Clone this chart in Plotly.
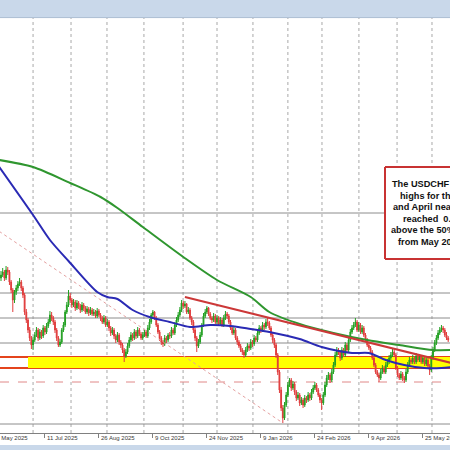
import plotly.graph_objects as go

# ---------------- data ----------------
bars = list(range(266))

opens = [
0.8235,0.8250,0.8265,0.8235,0.8275,0.8265,0.8215,0.8175,0.8125,0.8165,
0.8185,0.8205,0.8215,0.8185,0.8150,0.8065,0.8025,0.7975,0.7935,0.7900,
0.7925,0.7950,0.7975,0.7935,0.7965,0.7945,0.7985,0.7965,0.7995,0.8015,
0.8050,0.8035,0.8015,0.7975,0.7935,0.7900,0.7915,0.7975,0.8000,0.8065,
0.8100,0.8145,0.8125,0.8100,0.8115,0.8085,0.8110,0.8095,0.8075,0.8100,
0.8085,0.8065,0.8080,0.8060,0.8075,0.8055,0.8065,0.8045,0.8070,0.8050,
0.8035,0.8015,0.8035,0.8000,0.8015,0.7985,0.7960,0.7975,0.7945,0.7925,
0.7950,0.7915,0.7900,0.7875,0.7845,0.7865,0.7895,0.7925,0.7950,0.7935,
0.7965,0.7945,0.7975,0.7955,0.7935,0.7950,0.7965,0.7945,0.7985,0.8015,
0.8050,0.8065,0.8035,0.8000,0.7965,0.7935,0.7915,0.7905,0.7935,0.7925,
0.7950,0.7945,0.7975,0.7960,0.8000,0.8025,0.8050,0.8075,0.8110,0.8095,
0.8105,0.8065,0.8075,0.8035,0.8015,0.7975,0.7935,0.7895,0.7915,0.7950,
0.8000,0.8045,0.8065,0.8085,0.8055,0.8035,0.8025,0.8045,0.8015,0.8035,
0.8005,0.8025,0.8000,0.8035,0.8055,0.8045,0.8015,0.7985,0.7960,0.7975,
0.7935,0.7915,0.7895,0.7875,0.7865,0.7850,0.7875,0.7895,0.7885,0.7915,
0.7905,0.7935,0.7925,0.7960,0.7985,0.7975,0.8000,0.7990,0.8015,0.8010,
0.7985,0.7950,0.7925,0.7900,0.7850,0.7765,0.7675,0.7585,0.7535,0.7600,
0.7650,0.7700,0.7725,0.7685,0.7705,0.7665,0.7635,0.7650,0.7610,0.7625,
0.7600,0.7635,0.7625,0.7650,0.7635,0.7665,0.7685,0.7700,0.7675,0.7650,
0.7625,0.7610,0.7650,0.7700,0.7735,0.7750,0.7725,0.7765,0.7800,0.7850,
0.7875,0.7865,0.7835,0.7875,0.7850,0.7900,0.7875,0.7925,0.7965,0.7985,
0.8000,0.8015,0.7975,0.8000,0.7965,0.7985,0.7950,0.7925,0.7900,0.7885,
0.7865,0.7835,0.7800,0.7765,0.7750,0.7735,0.7765,0.7785,0.7765,0.7800,
0.7815,0.7835,0.7850,0.7865,0.7850,0.7785,0.7750,0.7735,0.7755,0.7735,
0.7725,0.7765,0.7800,0.7825,0.7815,0.7835,0.7815,0.7845,0.7825,0.7840,
0.7815,0.7835,0.7805,0.7825,0.7795,0.7775,0.7835,0.7875,0.7910,0.7935,
0.7960,0.7975,0.7985,0.7975,0.7950,0.7935]

highs = [
0.8270,0.8285,0.8275,0.8295,0.8290,0.8275,0.8225,0.8185,0.8175,0.8200,
0.8220,0.8235,0.8225,0.8195,0.8160,0.8080,0.8035,0.7990,0.7945,0.7940,
0.7965,0.7990,0.7985,0.7980,0.7975,0.8000,0.7995,0.8010,0.8030,0.8070,
0.8065,0.8045,0.8025,0.7985,0.7945,0.7930,0.7985,0.8015,0.8075,0.8115,
0.8175,0.8160,0.8135,0.8130,0.8125,0.8125,0.8120,0.8105,0.8115,0.8110,
0.8095,0.8095,0.8090,0.8090,0.8085,0.8080,0.8075,0.8085,0.8080,0.8060,
0.8045,0.8050,0.8045,0.8030,0.8025,0.7995,0.7990,0.7985,0.7955,0.7965,
0.7960,0.7925,0.7910,0.7885,0.7880,0.7910,0.7940,0.7965,0.7960,0.7980,
0.7975,0.7990,0.7985,0.7965,0.7965,0.7980,0.7975,0.8000,0.8030,0.8060,
0.8075,0.8070,0.8045,0.8010,0.7975,0.7945,0.7925,0.7950,0.7945,0.7960,
0.7965,0.7990,0.7985,0.8015,0.8040,0.8065,0.8090,0.8125,0.8120,0.8120,
0.8110,0.8090,0.8085,0.8045,0.8025,0.7985,0.7945,0.7930,0.7965,0.8010,
0.8060,0.8080,0.8095,0.8090,0.8065,0.8045,0.8060,0.8055,0.8050,0.8045,
0.8040,0.8035,0.8050,0.8070,0.8065,0.8055,0.8025,0.7995,0.7990,0.7985,
0.7945,0.7925,0.7905,0.7885,0.7875,0.7890,0.7910,0.7905,0.7930,0.7925,
0.7950,0.7945,0.7975,0.8000,0.7995,0.8015,0.8010,0.8030,0.8035,0.8020,
0.7995,0.7960,0.7935,0.7910,0.7860,0.7775,0.7690,0.7600,0.7615,0.7665,
0.7715,0.7735,0.7735,0.7720,0.7715,0.7675,0.7665,0.7660,0.7640,0.7635,
0.7650,0.7645,0.7665,0.7660,0.7680,0.7700,0.7715,0.7710,0.7685,0.7660,
0.7635,0.7665,0.7715,0.7750,0.7765,0.7760,0.7780,0.7815,0.7865,0.7890,
0.7885,0.7875,0.7890,0.7885,0.7915,0.7910,0.7940,0.7980,0.8000,0.8015,
0.8035,0.8025,0.8015,0.8010,0.8000,0.7995,0.7960,0.7935,0.7910,0.7895,
0.7875,0.7845,0.7810,0.7775,0.7760,0.7780,0.7800,0.7795,0.7815,0.7830,
0.7850,0.7865,0.7885,0.7875,0.7860,0.7795,0.7760,0.7770,0.7765,0.7745,
0.7780,0.7815,0.7840,0.7835,0.7850,0.7845,0.7860,0.7855,0.7855,0.7850,
0.7850,0.7845,0.7840,0.7835,0.7805,0.7850,0.7890,0.7925,0.7950,0.7975,
0.7990,0.8000,0.7995,0.7985,0.7965,0.7945]

lows = [
0.8220,0.8240,0.8220,0.8225,0.8250,0.8200,0.8160,0.8065,0.8110,0.8150,
0.8170,0.8195,0.8170,0.8135,0.8050,0.8010,0.7960,0.7920,0.7880,0.7875,
0.7915,0.7940,0.7920,0.7925,0.7930,0.7935,0.7950,0.7955,0.7985,0.8005,
0.8020,0.8000,0.7960,0.7920,0.7890,0.7890,0.7905,0.7965,0.7990,0.8055,
0.8090,0.8110,0.8085,0.8090,0.8070,0.8075,0.8080,0.8060,0.8065,0.8070,
0.8055,0.8055,0.8045,0.8050,0.8045,0.8045,0.8035,0.8035,0.8040,0.8020,
0.8005,0.8005,0.7990,0.7990,0.7970,0.7945,0.7950,0.7930,0.7910,0.7915,
0.7900,0.7885,0.7860,0.7815,0.7835,0.7855,0.7885,0.7915,0.7920,0.7925,
0.7930,0.7935,0.7945,0.7925,0.7925,0.7940,0.7935,0.7935,0.7975,0.8005,
0.8040,0.8025,0.7990,0.7955,0.7920,0.7900,0.7890,0.7895,0.7910,0.7915,
0.7930,0.7935,0.7950,0.7950,0.7990,0.8015,0.8040,0.8065,0.8080,0.8085,
0.8055,0.8055,0.8025,0.8000,0.7960,0.7920,0.7865,0.7885,0.7905,0.7940,
0.7990,0.8035,0.8055,0.8045,0.8025,0.8010,0.8015,0.8005,0.8005,0.7995,
0.7995,0.7990,0.7990,0.8025,0.8030,0.8005,0.7975,0.7950,0.7950,0.7925,
0.7900,0.7885,0.7865,0.7850,0.7835,0.7840,0.7865,0.7870,0.7875,0.7890,
0.7895,0.7915,0.7915,0.7950,0.7960,0.7965,0.7975,0.7980,0.7995,0.7975,
0.7940,0.7910,0.7885,0.7835,0.7750,0.7660,0.7570,0.7510,0.7525,0.7590,
0.7640,0.7690,0.7670,0.7675,0.7650,0.7620,0.7625,0.7595,0.7600,0.7585,
0.7590,0.7610,0.7615,0.7620,0.7625,0.7655,0.7675,0.7665,0.7640,0.7610,
0.7575,0.7600,0.7640,0.7690,0.7725,0.7710,0.7715,0.7755,0.7790,0.7840,
0.7850,0.7820,0.7825,0.7840,0.7840,0.7860,0.7865,0.7915,0.7955,0.7975,
0.7990,0.7965,0.7965,0.7955,0.7955,0.7940,0.7915,0.7890,0.7875,0.7855,
0.7825,0.7790,0.7755,0.7740,0.7715,0.7725,0.7755,0.7755,0.7755,0.7790,
0.7805,0.7825,0.7840,0.7840,0.7775,0.7740,0.7725,0.7725,0.7720,0.7710,
0.7715,0.7755,0.7790,0.7805,0.7805,0.7805,0.7805,0.7815,0.7815,0.7805,
0.7805,0.7795,0.7795,0.7785,0.7750,0.7765,0.7825,0.7865,0.7900,0.7925,
0.7950,0.7965,0.7960,0.7940,0.7925,0.7915]

closes = [
0.8250,0.8265,0.8235,0.8275,0.8265,0.8215,0.8175,0.8125,0.8165,0.8185,
0.8205,0.8215,0.8185,0.8150,0.8065,0.8025,0.7975,0.7935,0.7900,0.7925,
0.7950,0.7975,0.7935,0.7965,0.7945,0.7985,0.7965,0.7995,0.8015,0.8050,
0.8035,0.8015,0.7975,0.7935,0.7900,0.7915,0.7975,0.8000,0.8065,0.8100,
0.8145,0.8125,0.8100,0.8115,0.8085,0.8110,0.8095,0.8075,0.8100,0.8085,
0.8065,0.8080,0.8060,0.8075,0.8055,0.8065,0.8045,0.8070,0.8050,0.8035,
0.8015,0.8035,0.8000,0.8015,0.7985,0.7960,0.7975,0.7945,0.7925,0.7950,
0.7915,0.7900,0.7875,0.7845,0.7865,0.7895,0.7925,0.7950,0.7935,0.7965,
0.7945,0.7975,0.7955,0.7935,0.7950,0.7965,0.7945,0.7985,0.8015,0.8050,
0.8065,0.8035,0.8000,0.7965,0.7935,0.7915,0.7905,0.7935,0.7925,0.7950,
0.7945,0.7975,0.7960,0.8000,0.8025,0.8050,0.8075,0.8110,0.8095,0.8105,
0.8065,0.8075,0.8035,0.8015,0.7975,0.7935,0.7895,0.7915,0.7950,0.8000,
0.8045,0.8065,0.8085,0.8055,0.8035,0.8025,0.8045,0.8015,0.8035,0.8005,
0.8025,0.8000,0.8035,0.8055,0.8045,0.8015,0.7985,0.7960,0.7975,0.7935,
0.7915,0.7895,0.7875,0.7865,0.7850,0.7875,0.7895,0.7885,0.7915,0.7905,
0.7935,0.7925,0.7960,0.7985,0.7975,0.8000,0.7990,0.8015,0.8010,0.7985,
0.7950,0.7925,0.7900,0.7850,0.7765,0.7675,0.7585,0.7535,0.7600,0.7650,
0.7700,0.7725,0.7685,0.7705,0.7665,0.7635,0.7650,0.7610,0.7625,0.7600,
0.7635,0.7625,0.7650,0.7635,0.7665,0.7685,0.7700,0.7675,0.7650,0.7625,
0.7610,0.7650,0.7700,0.7735,0.7750,0.7725,0.7765,0.7800,0.7850,0.7875,
0.7865,0.7835,0.7875,0.7850,0.7900,0.7875,0.7925,0.7965,0.7985,0.8000,
0.8015,0.7975,0.8000,0.7965,0.7985,0.7950,0.7925,0.7900,0.7885,0.7865,
0.7835,0.7800,0.7765,0.7750,0.7735,0.7765,0.7785,0.7765,0.7800,0.7815,
0.7835,0.7850,0.7865,0.7850,0.7785,0.7750,0.7735,0.7755,0.7735,0.7725,
0.7765,0.7800,0.7825,0.7815,0.7835,0.7815,0.7845,0.7825,0.7840,0.7815,
0.7835,0.7805,0.7825,0.7795,0.7775,0.7835,0.7875,0.7910,0.7935,0.7960,
0.7975,0.7985,0.7975,0.7950,0.7935,0.7925]

# 100-day MA (blue) and 200-day MA (green)
ma100_bars = [-1, 19, 29, 40, 57, 63, 69, 78, 88, 100, 112, 124, 136, 148, 159,
              177, 190, 208, 218, 228, 239, 251, 261, 267]
ma100_vals = [0.8790, 0.8550, 0.8425, 0.8320, 0.8165, 0.8140, 0.8130, 0.8075,
              0.8040, 0.8015, 0.7990, 0.8000, 0.7995, 0.7980, 0.7965, 0.7930,
              0.7890, 0.7860, 0.7860, 0.7825, 0.7800, 0.7785, 0.7785, 0.7790]
ma200_bars = [-1, 19, 41, 59, 69, 84, 108, 128, 148, 159, 177, 197, 217, 236, 256, 267]
ma200_vals = [0.8825, 0.8790, 0.8710, 0.8640, 0.8585, 0.8490, 0.8340, 0.8225,
              0.8140, 0.8065, 0.8005, 0.7960, 0.7925, 0.7900, 0.7875, 0.7875]

# trend lines
trend_bars = [109, 267]
trend_vals = [0.8140, 0.7810]
dotted_bars = [-1, 167]
dotted_vals = [0.8468, 0.7510]

# horizontal levels
gray_levels = [0.8560, 0.8160, 0.8035, 0.7910, 0.7505]
band_low, band_high = 0.7785, 0.7840
band_start_bar = 16
dashed_level = 0.7715

# x-axis labels
tick_bars = [-6, 26, 58, 90, 122, 154, 186, 218, 250]
tick_labels = ["27 May 2025", "11 Jul 2025", "26 Aug 2025", "9 Oct 2025",
               "24 Nov 2025", "9 Jan 2026", "24 Feb 2026", "9 Apr 2026", "25 May 2026"]
grid_bars = [19, 41.5, 62.8, 84.7, 107.9, 128, 149.3, 170, 190.2, 212.1, 234.7, 255.4]

note_lines = ["The USDCHF", "highs for the", "and April near",
              "reached  0.", "above the 50%", "from May 2025"]

X_MIN, X_MAX = -0.593, 266.07

# ---------------- figure ----------------
fig = go.Figure()

fig.add_trace(go.Candlestick(
    x=bars, open=opens, high=highs, low=lows, close=closes,
    increasing=dict(line=dict(color="#23a023", width=1), fillcolor="#23a023"),
    decreasing=dict(line=dict(color="#e03c3c", width=1), fillcolor="#e03c3c"),
    whiskerwidth=0, hoverinfo="skip"))

fig.add_trace(go.Scatter(x=dotted_bars, y=dotted_vals, mode="lines",
                         line=dict(color="#e4a0a0", width=1, dash="dot"), hoverinfo="skip"))
fig.add_trace(go.Scatter(x=ma200_bars, y=ma200_vals, mode="lines",
                         line=dict(color="#2f962f", width=2, shape="spline", smoothing=0.8),
                         hoverinfo="skip"))
fig.add_trace(go.Scatter(x=ma100_bars, y=ma100_vals, mode="lines",
                         line=dict(color="#2a2ab4", width=2, shape="spline", smoothing=0.8),
                         hoverinfo="skip"))
fig.add_trace(go.Scatter(x=trend_bars, y=trend_vals, mode="lines",
                         line=dict(color="#cc3838", width=2), hoverinfo="skip"))

shapes = []
for gb in grid_bars:
    shapes.append(dict(type="line", xref="x", yref="paper", x0=gb, x1=gb, y0=0, y1=1,
                       line=dict(color="#a8a8a8", width=1, dash="dot"), layer="below"))
for lv in gray_levels:
    shapes.append(dict(type="line", xref="paper", yref="y", x0=0, x1=1, y0=lv, y1=lv,
                       line=dict(color="#8c8c8c", width=1), layer="below"))
shapes.append(dict(type="rect", xref="x", yref="y", x0=band_start_bar, x1=270,
                   y0=band_low, y1=band_high, fillcolor="#ffff00",
                   line=dict(width=0), layer="below"))
for lv in (band_low, band_high):
    shapes.append(dict(type="line", xref="paper", yref="y", x0=0, x1=1, y0=lv, y1=lv,
                       line=dict(color="#e4441c", width=2), layer="below"))
shapes.append(dict(type="line", xref="paper", yref="y", x0=0, x1=1,
                   y0=dashed_level, y1=dashed_level,
                   line=dict(color="#e08888", width=1, dash="dash"), layer="below"))
# window bars
shapes.append(dict(type="rect", xref="paper", yref="paper", x0=0, x1=1, y0=1.0, y1=1.05,
                   fillcolor="#c9d8ea", line=dict(width=0), layer="above"))
shapes.append(dict(type="line", xref="paper", yref="paper", x0=0, x1=1, y0=1.001, y1=1.001,
                   line=dict(color="#aebfd3", width=1), layer="above"))
shapes.append(dict(type="rect", xref="paper", yref="paper", x0=0, x1=1, y0=-0.06, y1=-0.0289,
                   fillcolor="#c9d8ea", line=dict(width=0), layer="above"))
# annotation box
bx0, by0, by1 = 385 / 450, 0.4193, 0.641
shapes.append(dict(type="rect", xref="paper", yref="paper", x0=bx0, x1=1.0, y0=by0, y1=by1,
                   fillcolor="white", line=dict(width=0), layer="above"))
for (xa, ya, xb, yb) in [(bx0, by1, 1.0, by1), (bx0, by0, 1.0, by0), (bx0, by0, bx0, by1)]:
    shapes.append(dict(type="line", xref="paper", yref="paper", x0=xa, y0=ya, x1=xb, y1=yb,
                       line=dict(color="#c83232", width=2), layer="above"))

annotations = []
for tb, tl in zip(tick_bars, tick_labels):
    # paper position of the label's tick (so labels left of the visible range still show)
    xp = (tb - X_MIN) / (X_MAX - X_MIN)
    annotations.append(dict(x=xp, y=-0.012, xref="paper", yref="paper", text=tl,
                            showarrow=False, xanchor="left", yanchor="middle",
                            font=dict(family="Liberation Sans, Arial", size=6, color="#3a3a3a")))
line_y = [0.600, 0.5711, 0.5446, 0.5157, 0.4892, 0.4602]
line_x = [0.8667, 0.8844, 0.8689, 0.8911, 0.8644, 0.8800]
for t, xx, yy in zip(note_lines, line_x, line_y):
    annotations.append(dict(x=xx, y=yy, xref="paper", yref="paper", text="<b>" + t + "</b>",
                            showarrow=False, xanchor="left", yanchor="middle",
                            font=dict(family="Liberation Sans, Arial", size=9.2, color="#111111")))

fig.update_layout(
    width=450, height=450,
    margin=dict(l=0, r=0, t=18, b=17),
    showlegend=False,
    plot_bgcolor="white", paper_bgcolor="white",
    xaxis=dict(range=[X_MIN, X_MAX], showgrid=False, zeroline=False,
               showline=True, linecolor="#808080", linewidth=1,
               ticks="outside", tickvals=tick_bars, ticklen=4, tickcolor="#808080",
               showticklabels=False, rangeslider=dict(visible=False), fixedrange=True),
    yaxis=dict(range=[0.746, 0.9535], visible=False, fixedrange=True),
    shapes=shapes, annotations=annotations,
)

fig.write_html("out.html")
